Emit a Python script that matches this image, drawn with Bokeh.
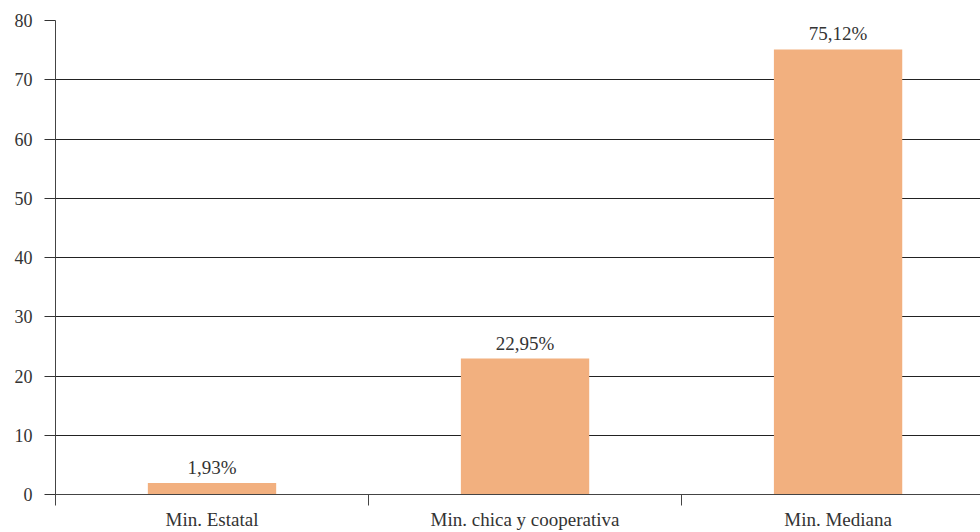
from bokeh.plotting import figure
from bokeh.models import ColumnDataSource, FixedTicker, Range1d, LabelSet
from bokeh.embed import file_html
from bokeh.resources import INLINE

categories = ["Min. Estatal", "Min. chica y cooperativa", "Min. Mediana"]
values = [1.93, 22.95, 75.12]
labels = ["1,93%", "22,95%", "75,12%"]
y_ticks = [0, 10, 20, 30, 40, 50, 60, 70, 80]

FONT = "Liberation Serif"
TXT = "#333333"

xs = list(range(len(categories)))
src = ColumnDataSource(dict(x=xs, top=values, lab=labels))

p = figure(width=980, height=532, output_backend="svg", toolbar_location=None,
           x_range=Range1d(-0.5, 2.455), y_range=Range1d(0, 80),
           min_border_left=55, min_border_right=0, min_border_top=20, min_border_bottom=38)
p.outline_line_color = None
p.background_fill_color = "white"
p.border_fill_color = "white"

p.vbar(x="x", top="top", width=0.41, source=src, fill_color="#F2B07F", line_color=None)

p.add_layout(LabelSet(x="x", y="top", text="lab", source=src, text_align="center",
                      text_baseline="bottom", y_offset=5, text_font=FONT,
                      text_font_size="19px", text_color=TXT))

# y axis
p.yaxis.ticker = FixedTicker(ticks=y_ticks)
p.yaxis.axis_line_color = "#444444"
p.yaxis.major_tick_line_color = "#333333"
p.yaxis.major_tick_out = 11
p.yaxis.major_tick_in = 0
p.yaxis.minor_tick_line_color = None
p.yaxis.major_label_text_font = FONT
p.yaxis.major_label_text_font_size = "18px"
p.yaxis.major_label_text_color = TXT
p.yaxis.major_label_standoff = 12

# x axis
p.xaxis.ticker = FixedTicker(ticks=xs, minor_ticks=[-0.5, 0.5, 1.5, 2.5])
p.xaxis.major_label_overrides = {i: c for i, c in enumerate(categories)}
p.xaxis.major_label_text_font = FONT
p.xaxis.major_label_text_font_size = "19px"
p.xaxis.major_label_text_color = TXT
p.xaxis.major_label_standoff = 3
p.xaxis.axis_line_color = "#444444"
p.xaxis.major_tick_line_color = None
p.xaxis.major_tick_out = 0
p.xaxis.major_tick_in = 0
p.xaxis.minor_tick_line_color = "#444444"
p.xaxis.minor_tick_out = 11
p.xaxis.minor_tick_in = 0

p.xgrid.grid_line_color = None
p.ygrid.grid_line_color = "#222222"
p.ygrid.grid_line_width = 1

open("out.html", "w").write(file_html(p, INLINE))
